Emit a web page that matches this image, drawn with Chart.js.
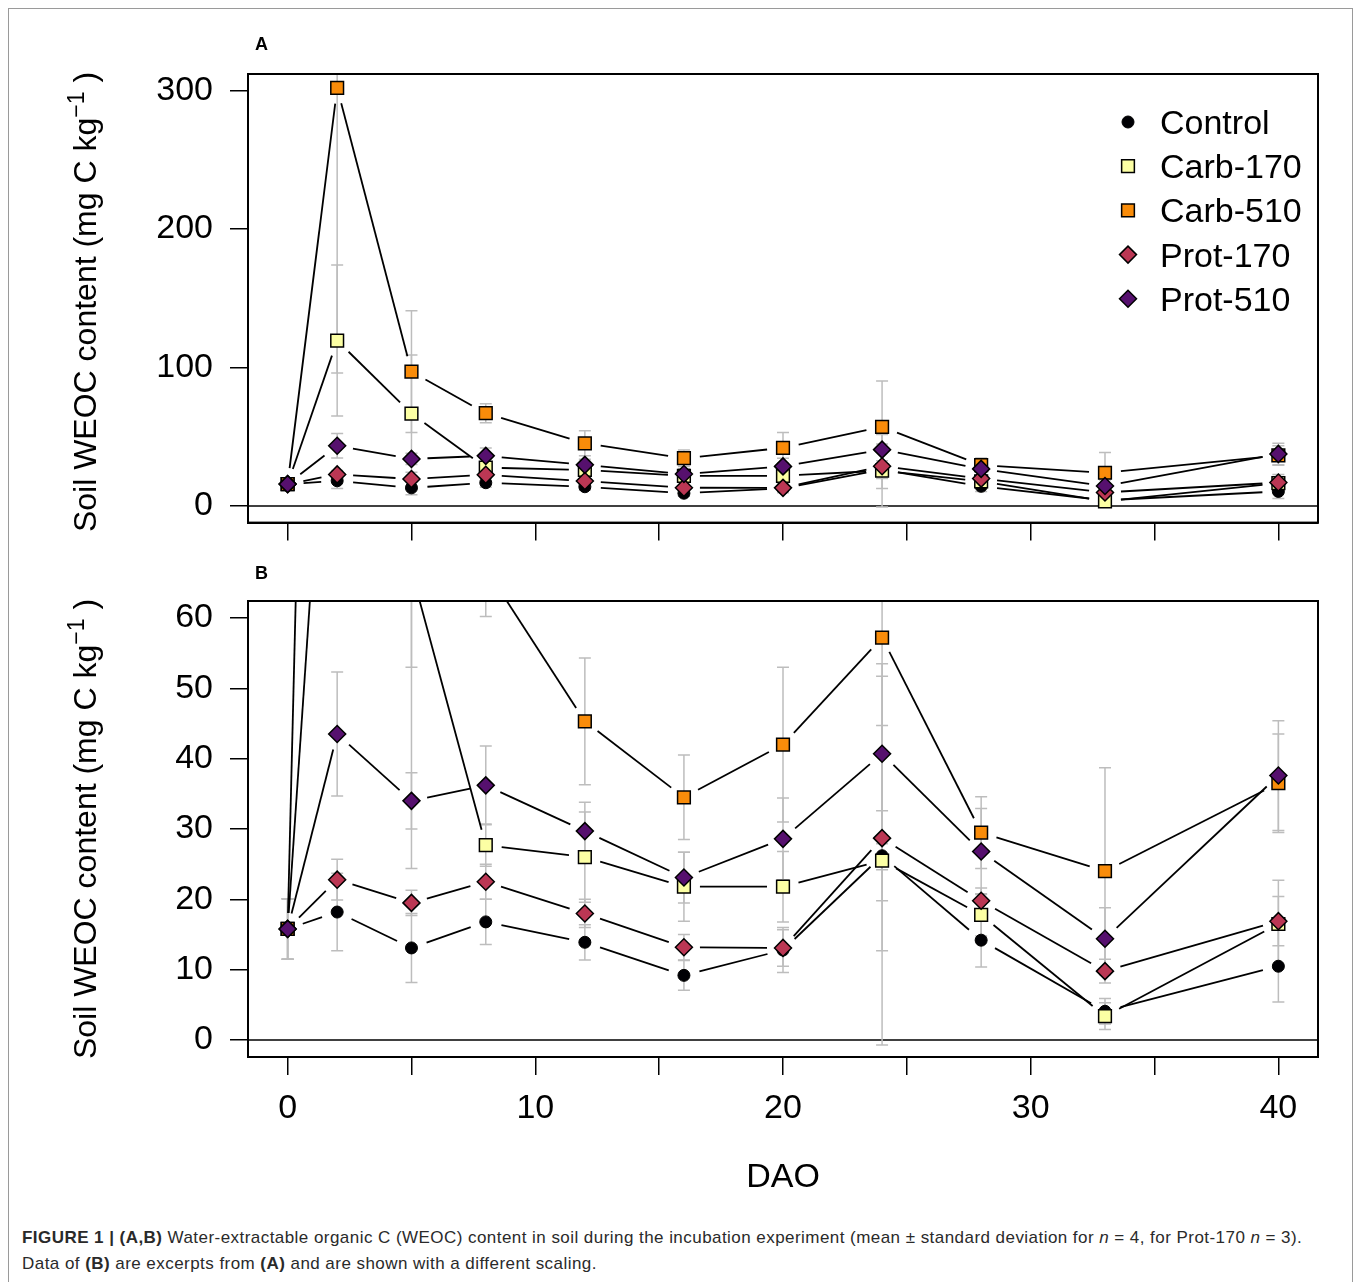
<!DOCTYPE html>
<html>
<head>
<meta charset="utf-8">
<script src="https://cdn.jsdelivr.net/npm/chart.js@4.4.1/dist/chart.umd.min.js"></script>
<style>
  body { margin: 0; background: #fff; width: 1358px; height: 1282px; position: relative; overflow: hidden;
         font-family: "Liberation Sans", Arial, sans-serif; }
  #frame { position: absolute; left: 8px; top: 8px; width: 1343px; height: 1300px; border: 1px solid #9a9a9a; }
  canvas { position: absolute; left: 0; }
  #chartA { top: 0; }
  #chartB { top: 560px; }
  .ytitle { position: absolute; font-size: 32px; line-height: 36px; white-space: nowrap; color: #000;
            transform: translate(-50%, -50%) rotate(-90deg); }
  .ytitle sup { font-size: 0.72em; vertical-align: baseline; position: relative; top: -0.5em; }
  .panel { position: absolute; left: 255px; font-weight: bold; font-size: 18px; line-height: 18px; color: #000; }
  #cap { position: absolute; left: 22px; top: 1225px; font-size: 17px; letter-spacing: 0.45px; line-height: 26px;
         color: #2a2a2a; white-space: nowrap; }
</style>
</head>
<body>
<div id="frame"></div>
<canvas id="chartA" width="1358" height="560"></canvas>
<canvas id="chartB" width="1358" height="655"></canvas>
<div class="panel" style="top:35px">A</div>
<div class="panel" style="top:564px">B</div>
<div class="ytitle" style="left:86px; top:302px">Soil WEOC content (mg C kg<sup>−1</sup> )</div>
<div class="ytitle" style="left:86px; top:829px">Soil WEOC content (mg C kg<sup>−1</sup> )</div>
<div id="cap"><b>FIGURE 1 | (A,B)</b> Water-extractable organic C (WEOC) content in soil during the incubation experiment (mean ± standard deviation for <i>n</i> = 4, for Prot-170 <i>n</i> = 3).<br>Data of <b>(B)</b> are excerpts from <b>(A)</b> and are shown with a different scaling.</div>
<script>
// sampling days (days after onset, DAO)
const days = [0, 2, 5, 8, 12, 16, 20, 24, 28, 33, 40];

// means and standard deviations, mg C kg-1
const control   = [15.8, 18.2, 13.1, 16.8, 13.9, 9.2, 12.8, 26.2, 14.2, 4.1, 10.5];
const controlSd = [4.3, 5.5, 4.9, 3.2, 2.5, 2.1, 3.2, 6.4, 3.8, 1.8, 5.1];
const carb170   = [15.8, 119.5, 66.7, 27.7, 26.0, 21.8, 21.8, 25.5, 17.8, 3.4, 16.5];
const carb170Sd = [4.3, 54.5, 42.3, 3.0, 6.4, 4.9, 5.0, 26.2, 3.0, 1.9, 6.2];
const carb510   = [15.8, 302, 97, 67, 45.3, 34.5, 42.0, 57.2, 29.5, 24.0, 36.5];
const carb510Sd = [4.3, 206, 44, 6.8, 9.0, 6.0, 11.0, 33.0, 5.1, 14.7, 7.0];
const prot170   = [15.8, 22.8, 19.5, 22.5, 18.0, 13.2, 13.1, 28.7, 19.8, 9.8, 16.9];
const prot170Sd = [4.3, 2.9, 1.8, 2.5, 2.0, 1.8, 2.6, 16.0, 1.8, 1.7, 3.5];
const prot510   = [15.8, 43.5, 34.0, 36.2, 29.7, 23.1, 28.6, 40.7, 26.8, 14.4, 37.6];
const prot510Sd = [4.3, 8.8, 4.0, 5.6, 4.1, 3.6, 5.8, 12.8, 6.1, 4.4, 7.8];

const seriesNames  = ["Control", "Carb-170", "Carb-510", "Prot-170", "Prot-510"];
const seriesMeans  = [control, carb170, carb510, prot170, prot510];
const seriesSds    = [controlSd, carb170Sd, carb510Sd, prot170Sd, prot510Sd];
const seriesColors = ["#000004", "#FCFFA4", "#F98C0A", "#BB3754", "#56106E"];
const seriesShapes = ["circle", "rect", "rect", "rectRot", "rectRot"];
const seriesRadius = [6, 9, 9, 8.5, 8.5];

// axis ticks
const xTicks  = [0, 5, 10, 15, 20, 25, 30, 35, 40];
const xLabels = [0, 10, 20, 30, 40];
const yTicksA = [0, 100, 200, 300];
const yTicksB = [0, 10, 20, 30, 40, 50, 60];

const FONT = '"Liberation Sans", Arial, sans-serif';

function buildDatasets() {
  return seriesNames.map((name, s) => ({
    label: name,
    data: days.map((d, i) => ({x: d, y: seriesMeans[s][i]})),
    sd: seriesSds[s],
    pointStyle: seriesShapes[s],
    pointRadius: seriesRadius[s],
    pointBackgroundColor: seriesColors[s],
    pointBorderColor: "#000",
    pointBorderWidth: s === 0 ? 1 : 1.5,
    showLine: false,
    order: seriesNames.length - 1 - s // later series drawn on top
  }));
}

// error bars, zero line, gapped connecting lines (like R type = "b"), box and legend
const weocPlugin = {
  id: "weoc",
  beforeDatasetsDraw(chart) {
    const {ctx, chartArea: a, scales: {x, y}} = chart;
    ctx.save();
    ctx.beginPath();
    ctx.rect(a.left, a.top, a.right - a.left, a.bottom - a.top);
    ctx.clip();

    // horizontal line at 0
    const y0 = y.getPixelForValue(0);
    ctx.strokeStyle = "#000";
    ctx.lineWidth = 1.5;
    ctx.beginPath();
    ctx.moveTo(a.left, y0);
    ctx.lineTo(a.right, y0);
    ctx.stroke();

    // error bars
    ctx.strokeStyle = "#BDBDBD";
    ctx.lineWidth = 1.5;
    chart.data.datasets.forEach(ds => {
      ds.data.forEach((p, i) => {
        const px = x.getPixelForValue(p.x);
        const lo = y.getPixelForValue(p.y - ds.sd[i]);
        const hi = y.getPixelForValue(p.y + ds.sd[i]);
        ctx.beginPath();
        ctx.moveTo(px, lo); ctx.lineTo(px, hi);
        ctx.moveTo(px - 6, lo); ctx.lineTo(px + 6, lo);
        ctx.moveTo(px - 6, hi); ctx.lineTo(px + 6, hi);
        ctx.stroke();
      });
    });

    // connecting lines, stopping short of each point
    const gap = 16;
    ctx.strokeStyle = "#000";
    ctx.lineWidth = 1.8;
    chart.data.datasets.forEach(ds => {
      for (let i = 1; i < ds.data.length; i++) {
        const x0 = x.getPixelForValue(ds.data[i - 1].x), y0p = y.getPixelForValue(ds.data[i - 1].y);
        const x1 = x.getPixelForValue(ds.data[i].x), y1p = y.getPixelForValue(ds.data[i].y);
        const dx = x1 - x0, dy = y1p - y0p;
        const len = Math.hypot(dx, dy);
        if (len <= 2 * gap) continue;
        const ux = dx / len, uy = dy / len;
        ctx.beginPath();
        ctx.moveTo(x0 + ux * gap, y0p + uy * gap);
        ctx.lineTo(x1 - ux * gap, y1p - uy * gap);
        ctx.stroke();
      }
    });
    ctx.restore();
  },

  afterDraw(chart, args, opts) {
    const {ctx, chartArea: a} = chart;
    ctx.save();
    ctx.strokeStyle = "#000";
    ctx.lineWidth = 2;
    ctx.strokeRect(a.left, a.top, a.right - a.left, a.bottom - a.top);

    if (opts.legend) {
      ctx.font = "34px " + FONT;
      ctx.textAlign = "left";
      ctx.textBaseline = "alphabetic";
      chart.data.datasets.forEach((ds, s) => {
        const cy = a.top + 48 + s * 44.2;
        ctx.fillStyle = ds.pointBackgroundColor;
        ctx.strokeStyle = "#000";
        ctx.lineWidth = ds.pointBorderWidth;
        Chart.helpers.drawPoint(ctx, {pointStyle: ds.pointStyle, radius: ds.pointRadius, rotation: 0,
                                      borderWidth: ds.pointBorderWidth}, a.right - 190, cy);
        ctx.fillStyle = "#000";
        ctx.fillText(ds.label, a.right - 158, cy + 12);
      });
    }
    ctx.restore();
  }
};

function chartConfig(yMin, yMax, yTicks, showXLabels, padTop, xAxisHeight, legend) {
  return {
    type: "scatter",
    data: {datasets: buildDatasets()},
    options: {
      responsive: false,
      animation: false,
      devicePixelRatio: 1,
      layout: {padding: {top: padTop, right: 40, bottom: 0, left: 0}},
      plugins: {
        legend: {display: false},
        tooltip: {enabled: false},
        weoc: {legend: legend}
      },
      scales: {
        x: {
          type: "linear",
          position: "bottom",
          min: -1.6,
          max: 41.6,
          afterBuildTicks: s => { s.ticks = xTicks.map(v => ({value: v})); },
          afterFit: s => { s.height = xAxisHeight; },
          grid: {drawOnChartArea: false, drawTicks: true, tickLength: 18, color: "#000", lineWidth: 1.5},
          border: {display: true, color: "#000", width: 2},
          ticks: {
            display: showXLabels,
            autoSkip: false,
            maxRotation: 0,
            padding: 13,
            color: "#000",
            font: {family: FONT, size: 34},
            callback: v => xLabels.includes(v) ? String(v) : ""
          },
          title: {
            display: showXLabels,
            text: "DAO",
            color: "#000",
            font: {family: FONT, size: 34},
            padding: {top: 0, bottom: 17}
          }
        },
        y: {
          type: "linear",
          position: "left",
          min: yMin,
          max: yMax,
          afterBuildTicks: s => { s.ticks = yTicks.map(v => ({value: v})); },
          afterFit: s => { s.width = 248; },
          grid: {drawOnChartArea: false, drawTicks: true, tickLength: 18, color: "#000", lineWidth: 1.5},
          border: {display: true, color: "#000", width: 2},
          ticks: {
            padding: 17,
            color: "#000",
            font: {family: FONT, size: 34}
          }
        }
      }
    },
    plugins: [weocPlugin]
  };
}

new Chart(document.getElementById("chartA").getContext("2d"),
  chartConfig(-12, 312, yTicksA, false, 74, 30, true));
new Chart(document.getElementById("chartB").getContext("2d"),
  chartConfig(-2.4, 62.4, yTicksB, true, 41, 158, false));
</script>
</body>
</html>
